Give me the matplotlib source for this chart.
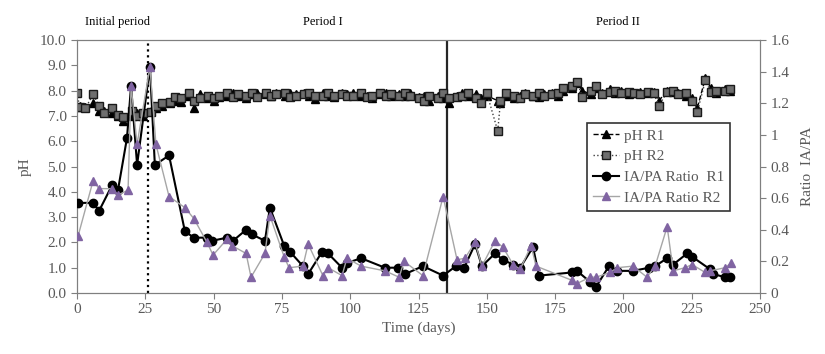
import numpy as np
import matplotlib
matplotlib.use("Agg")
import matplotlib.pyplot as plt

plt.rcParams['font.family'] = ['Liberation Serif', 'DejaVu Serif']

# pH measurements (both reactors share sampling days)
ph_days = [0, 1, 3, 6, 8, 10, 13, 15, 17, 20, 22, 24, 27, 29, 31, 34, 36, 38, 41, 43,
           45, 48, 50, 52, 55, 57, 59, 62, 64, 66, 69, 71, 73, 76, 78, 80, 83, 85, 87, 90,
           92, 94, 97, 99, 101, 104, 106, 108, 111, 113, 115, 118, 120, 122, 125, 127, 129, 132, 134, 136,
           139, 141, 143, 146, 148, 150, 154, 155, 157, 160, 162, 164, 167, 169, 171, 174, 176, 178, 181, 183,
           185, 188, 190, 192, 195, 197, 199, 202, 204, 206, 209, 211, 213, 216, 218, 220, 223, 225, 227, 230,
           232, 234, 237, 239]
ph_r1 = [7.35, 7.4, 7.35, 7.5, 7.2, 7.2, 7.1, 7.0, 6.8, 7.0, 7.1, 7.0, 7.2, 7.3, 7.4, 7.5, 7.6, 7.55, 7.8, 7.3,
         7.85, 7.7, 7.6, 7.75, 7.8, 7.9, 7.8, 7.7, 7.85, 7.9, 7.85, 7.8, 7.9, 7.8, 7.9, 7.85, 7.9, 7.8, 7.65, 7.9,
         7.8, 7.75, 7.9, 7.85, 7.9, 7.8, 7.8, 7.7, 7.85, 7.9, 7.8, 7.85, 7.8, 7.9, 7.75, 7.8, 7.6, 7.8, 7.7, 7.5,
         7.8, 7.9, 7.8, 7.85, 7.7, 7.8, 7.6, 7.5, 7.8, 7.7, 7.8, 7.9, 7.8, 7.75, 7.85, 7.9, 7.8, 8.0, 8.1, 8.3,
         8.0, 7.85, 8.1, 7.9, 8.05, 7.9, 8.0, 7.85, 7.9, 7.95, 7.9, 7.95, 7.6, 8.0, 7.95, 7.9, 7.8, 7.7, 7.3, 8.5,
         8.1, 7.9, 8.05, 8.0]
ph_r2 = [7.9, 7.35, 7.3, 7.85, 7.4, 7.1, 7.3, 7.05, 6.95, 7.2, 7.0, 7.1, 7.15, 7.4, 7.5, 7.55, 7.75, 7.7, 7.9, 7.6,
         7.7, 7.8, 7.7, 7.8, 7.9, 7.75, 7.85, 7.8, 7.9, 7.75, 7.9, 7.8, 7.85, 7.9, 7.75, 7.8, 7.85, 7.9, 7.8, 7.8,
         7.9, 7.8, 7.85, 7.8, 7.8, 7.9, 7.75, 7.8, 7.9, 7.8, 7.85, 7.8, 7.9, 7.8, 7.7, 7.6, 7.8, 7.7, 7.9, 7.7,
         7.75, 7.8, 7.9, 7.7, 7.5, 7.9, 6.4, 7.6, 7.9, 7.8, 7.7, 7.85, 7.8, 7.9, 7.8, 7.85, 7.9, 8.1, 8.2, 8.35,
         7.75, 8.0, 8.2, 7.85, 7.95, 8.0, 7.9, 7.95, 7.9, 7.85, 7.95, 7.9, 7.4, 7.95, 8.0, 7.85, 7.9, 7.6, 7.15, 8.4,
         7.95, 8.0, 8.0, 8.05]

# IA/PA ratio
ratio_days_r1 = [0.4, 5.9, 8.1, 12.8, 15.0, 18.3, 19.8, 22.0, 26.7, 28.5, 33.7, 39.5, 42.8, 47.6, 49.4,
                 54.9, 57.1, 61.9, 64.1, 68.8, 70.6, 75.8, 78.0, 82.7, 84.6, 89.7, 91.9, 97.0, 98.8, 104.0,
                 112.7, 117.5, 120.1, 126.6, 134.0, 138.7, 141.7, 145.7, 148.2, 153.0, 155.9, 159.6, 162.2, 166.9, 169.1,
                 181.2, 183.0, 187.8, 190.0, 194.7, 197.7, 203.5, 209.4, 211.6, 216.0, 218.2, 223.3, 225.1, 231.7, 232.8,
                 237.2, 239.0]
ratio_r1 = [0.57, 0.57, 0.52, 0.68, 0.65, 0.98, 1.31, 0.81, 1.43, 0.81, 0.87, 0.39, 0.35, 0.35, 0.33,
            0.35, 0.33, 0.40, 0.37, 0.33, 0.54, 0.30, 0.26, 0.17, 0.12, 0.26, 0.25, 0.16, 0.19, 0.22,
            0.16, 0.16, 0.12, 0.17, 0.11, 0.17, 0.16, 0.31, 0.17, 0.25, 0.21, 0.18, 0.16, 0.29, 0.11,
            0.13, 0.14, 0.07, 0.04, 0.17, 0.14, 0.14, 0.16, 0.17, 0.22, 0.18, 0.25, 0.23, 0.15, 0.12,
            0.10, 0.10]
ratio_days_r2 = [0.4, 5.9, 8.1, 12.8, 15.0, 18.7, 19.8, 22.0, 26.7, 28.9, 33.7, 39.5, 42.8, 47.6, 49.8,
                 54.9, 56.7, 61.9, 63.7, 68.8, 70.6, 75.8, 77.6, 82.7, 84.6, 90.0, 91.9, 97.0, 98.8, 104.0,
                 112.7, 117.9, 119.7, 126.6, 134.0, 139.1, 142.0, 145.7, 148.2, 153.0, 155.9, 159.6, 162.2, 166.2, 168.0,
                 181.2, 183.0, 187.8, 190.0, 195.1, 197.7, 203.5, 208.6, 211.6, 216.0, 218.2, 222.5, 225.1, 229.9, 231.7,
                 237.2, 239.4]
ratio_r2 = [0.36, 0.71, 0.66, 0.66, 0.62, 0.65, 1.31, 0.94, 1.43, 0.94, 0.61, 0.54, 0.47, 0.32, 0.24,
            0.34, 0.30, 0.25, 0.10, 0.25, 0.49, 0.23, 0.16, 0.17, 0.31, 0.11, 0.16, 0.11, 0.22, 0.17,
            0.14, 0.10, 0.20, 0.11, 0.61, 0.21, 0.22, 0.32, 0.17, 0.33, 0.29, 0.18, 0.15, 0.30, 0.17,
            0.08, 0.06, 0.10, 0.10, 0.13, 0.16, 0.17, 0.10, 0.17, 0.42, 0.14, 0.16, 0.18, 0.13, 0.14,
            0.16, 0.19]

periods = ["Initial period", "Period I", "Period II"]
period_x = [15, 90, 198]
bounds = [26, 135.5]

grey = "#7f7f7f"
tick_grey = "#595959"

fig = plt.figure(figsize=(8.25, 3.54), dpi=100)
ax = fig.add_axes([0.0933, 0.1723, 0.828, 0.7147])
ax2 = ax.twinx()

ax.plot(ph_days, ph_r1, color="black", ls="--", lw=1, marker="^", ms=5.5, mfc="black", mec="black",
        label="pH R1", zorder=3)
ax.plot(ph_days, ph_r2, color="#404040", ls=":", lw=1, marker="s", ms=5.5, mfc="#6e6e6e", mec="#1a1a1a",
        label="pH R2", zorder=3)
ax2.plot(ratio_days_r1, ratio_r1, color="black", lw=1.5, marker="o", ms=6, mfc="black", mec="black",
         label="IA/PA Ratio  R1", zorder=3)
ax2.plot(ratio_days_r2, ratio_r2, color="#a6a6a6", lw=1, marker="^", ms=5.5, mfc="#8064a2", mec="#8064a2",
         label="IA/PA Ratio R2", zorder=4)

ax.axvline(bounds[0], color="black", ls=":", lw=1.6)
ax.axvline(bounds[1], color="#262626", ls="-", lw=1.6)

ax.set_xlim(0, 250)
ax.set_ylim(0, 10)
ax2.set_ylim(0, 1.6)
ax.set_xticks(np.arange(0, 251, 25))
ax.set_yticks(np.arange(0, 10.1, 1))
ax.set_yticklabels([f"{v:.1f}" for v in np.arange(0, 10.1, 1)])
r_ticks = np.arange(0, 1.61, 0.2)
ax2.set_yticks(r_ticks)
ax2.set_yticklabels([f"{v:.1f}".rstrip("0").rstrip(".") if v > 0 else "0" for v in r_ticks])

for a in (ax, ax2):
    for s in a.spines.values():
        s.set_color(grey)
    a.tick_params(colors=grey, labelcolor=tick_grey, labelsize=11, length=4, direction="out")

ax.set_xlabel("Time (days)", fontsize=11, color=tick_grey)
ax.set_ylabel("pH", fontsize=11, color=tick_grey, labelpad=6)
ax2.set_ylabel("Ratio  IA/PA", fontsize=11, color=tick_grey, labelpad=8)

for name, px in zip(periods, period_x):
    ax.text(px, 10.7, name, ha="center", va="center", fontsize=9, color="black")

h1, l1 = ax.get_legend_handles_labels()
h2, l2 = ax2.get_legend_handles_labels()
leg = ax2.legend(h1 + h2, l1 + l2, loc="upper left", bbox_to_anchor=(0.747, 0.672), borderaxespad=0,
                 fontsize=11, frameon=True, fancybox=False, handlelength=1.7, handletextpad=0.3,
                 borderpad=0.4, labelspacing=0.45)
leg.get_frame().set_edgecolor("black")
leg.get_frame().set_linewidth(1.2)
for t in leg.get_texts():
    t.set_color(tick_grey)

fig.savefig("out.png", dpi=100)
